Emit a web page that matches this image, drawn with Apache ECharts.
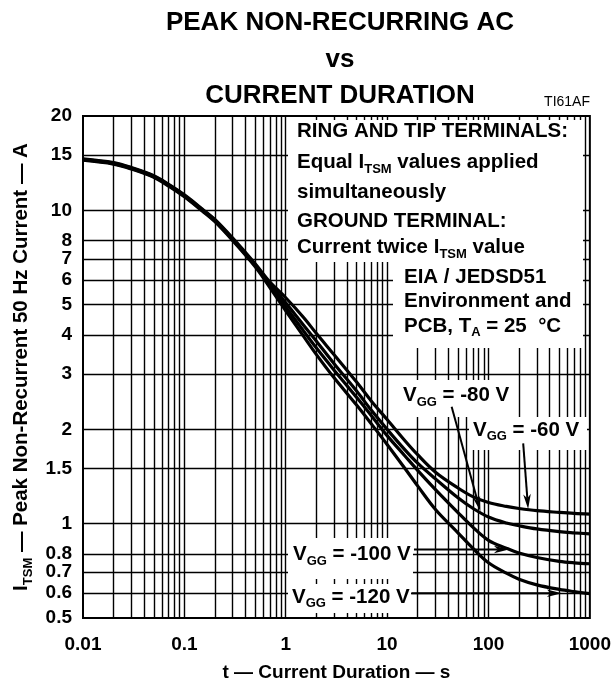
<!DOCTYPE html>
<html><head><meta charset="utf-8">
<script src="https://cdn.jsdelivr.net/npm/echarts@6/dist/echarts.min.js"></script>
<style>html,body{margin:0;padding:0;background:#fff}#c{width:614px;height:687px}</style>
</head><body><div id="c"></div>
<script>
// ---- data ----
const durations = [0.01, 0.02, 0.03, 0.05, 0.07, 0.1, 0.15, 0.2, 0.3, 0.5, 0.7, 1, 1.5, 2, 3, 5, 7, 10, 15, 20, 30, 50, 70, 100, 150, 200, 300, 500, 700, 1000];
const vgg60  = [14.6, 14.2, 13.7, 12.9, 12.1, 11.2, 10.1, 9.35, 8.15, 6.75, 5.9, 5.26, 4.55, 4.05, 3.46, 2.83, 2.46, 2.15, 1.84, 1.66, 1.46, 1.3, 1.22, 1.168, 1.135, 1.118, 1.1, 1.086, 1.078, 1.072];
const vgg80  = [14.55, 14.15, 13.65, 12.85, 12.05, 11.15, 10.05, 9.3, 8.1, 6.7, 5.82, 5.07, 4.3, 3.83, 3.24, 2.65, 2.3, 2.0, 1.72, 1.56, 1.39, 1.21, 1.12, 1.05, 1.005, 0.985, 0.962, 0.943, 0.935, 0.928];
const vgg100 = [14.5, 14.1, 13.6, 12.8, 12.0, 11.1, 10.0, 9.25, 8.05, 6.65, 5.74, 4.92, 4.12, 3.64, 3.09, 2.53, 2.21, 1.91, 1.645, 1.48, 1.285, 1.085, 0.975, 0.885, 0.835, 0.806, 0.78, 0.758, 0.75, 0.745];
const vgg120 = [14.45, 14.05, 13.55, 12.75, 11.95, 11.05, 9.95, 9.2, 8.0, 6.6, 5.66, 4.78, 3.96, 3.47, 2.92, 2.39, 2.08, 1.79, 1.5, 1.32, 1.11, 0.935, 0.835, 0.75, 0.695, 0.665, 0.638, 0.617, 0.607, 0.598];
const seriesNames = ['VGG = -60 V', 'VGG = -80 V', 'VGG = -100 V', 'VGG = -120 V'];
const xTickLabels = [0.01, 0.1, 1, 10, 100, 1000];
const yTickLabels = [0.5, 0.6, 0.7, 0.8, 1, 1.5, 2, 3, 4, 5, 6, 7, 8, 10, 15, 20];
const xGridValues = [0.02,0.03,0.04,0.05,0.06,0.07,0.08,0.09,0.1,0.2,0.3,0.4,0.5,0.6,0.7,0.8,0.9,1,2,3,4,5,6,7,8,9,10,20,30,40,50,60,70,80,90,100,200,300,400,500,600,700,800,900];
const yGridValues = [0.6, 0.7, 0.8, 1, 1.5, 2, 3, 4, 5, 6, 7, 8, 10, 15];
// arrow annotations, in data coordinates [t, I]
const arrows = [
  [[43.3, 2.36], [83.2, 1.095]],
  [[220, 1.804], [246, 1.113]],
  [[18.4, 0.827], [159, 0.827]],
  [[17.4, 0.6], [530, 0.6]]
];

const FF = "'Liberation Sans', Arial, Helvetica, sans-serif";
const chart = echarts.init(document.getElementById('c'));

function pairs(vals) { return durations.map((t, i) => [t, vals[i]]); }
const curveStyle = {
  type: 'line', smooth: 0.35, showSymbol: false, symbol: 'none', z: 3, silent: true,
  lineStyle: { color: '#000', width: 3.2 }
};

chart.setOption({
  animation: false,
  backgroundColor: '#fff',
  title: {
    text: 'PEAK NON-RECURRING AC\nvs\nCURRENT DURATION',
    left: 335, top: 0, textAlign: 'center',
    textStyle: { fontFamily: FF, fontWeight: 'bold', fontSize: 26, lineHeight: 36.5, color: '#000' }
  },
  grid: { left: 83, right: 24, top: 116, bottom: 64, show: true, borderColor: '#000', borderWidth: 2, backgroundColor: 'transparent' },
  xAxis: {
    type: 'log', logBase: 10, min: 0.01, max: 1000,
    axisLine: { show: false }, axisTick: { show: false }, splitLine: { show: false },
    axisLabel: { customValues: xTickLabels, formatter: v => String(v), fontFamily: FF, fontWeight: 'bold', fontSize: 19, color: '#000', margin: 17 },
    name: 't — Current Duration — s', nameLocation: 'middle', nameGap: 45,
    nameTextStyle: { fontFamily: FF, fontWeight: 'bold', fontSize: 19, color: '#000' }
  },
  yAxis: {
    type: 'log', logBase: 10, min: 0.5, max: 20,
    axisLine: { show: false }, axisTick: { show: false }, splitLine: { show: false },
    axisLabel: { customValues: yTickLabels, formatter: v => String(v), fontFamily: FF, fontWeight: 'bold', fontSize: 19, color: '#000', margin: 11 },
    name: '{m|I}{s|TSM}{m| — Peak Non-Recurrent 50 Hz Current — A}', nameLocation: 'middle', nameGap: 48, nameRotate: 90,
    nameTextStyle: {
      fontFamily: FF, fontWeight: 'bold', fontSize: 20.5, color: '#000',
      rich: {
        m: { fontFamily: FF, fontWeight: 'bold', fontSize: 20.5, lineHeight: 26, color: '#000' },
        s: { fontFamily: FF, fontWeight: 'bold', fontSize: 13, lineHeight: 9, verticalAlign: 'bottom', color: '#000' }
      }
    }
  },
  series: [
    {
      type: 'line', data: [], z: 1, silent: true,
      markLine: {
        z: 1, silent: true, symbol: 'none', animation: false, label: { show: false },
        lineStyle: { color: '#000', width: 1.4, type: 'solid' },
        emphasis: { disabled: true },
        data: xGridValues.map(v => ({ xAxis: v })).concat(yGridValues.map(v => ({ yAxis: v })))
      }
    },
    Object.assign({ name: seriesNames[0], data: pairs(vgg60) }, curveStyle),
    Object.assign({ name: seriesNames[1], data: pairs(vgg80) }, curveStyle),
    Object.assign({ name: seriesNames[2], data: pairs(vgg100) }, curveStyle),
    Object.assign({ name: seriesNames[3], data: pairs(vgg120) }, curveStyle)
  ]
});

// ---- annotations ----
const richMain = { fontFamily: FF, fontWeight: 'bold', fontSize: 20.5, lineHeight: 26, fill: '#000' };
const richSub = { fontFamily: FF, fontWeight: 'bold', fontSize: 13, lineHeight: 9, verticalAlign: 'bottom', fill: '#000' };
function txt(x, y, text) {
  return {
    type: 'text', x: x, y: y, z: 6, silent: true,
    style: { text: text, rich: { m: richMain, s: richSub }, fontFamily: FF, fontWeight: 'bold', fontSize: 20.5, fill: '#000', align: 'left', verticalAlign: 'middle' }
  };
}
function box(x, y, w, h) {
  return { type: 'rect', z: 2, silent: true, shape: { x: x, y: y, width: w, height: h }, style: { fill: '#fff' } };
}
const g = [
  box(288, 120, 295, 142),
  box(393, 262, 190, 86),
  box(398, 380, 115, 37),
  box(469, 417, 118, 33),
  box(288, 538, 125, 41),
  box(288, 584, 123, 29),
  txt(297, 131, '{m|RING AND TIP TERMINALS:}'),
  txt(297, 162.7, '{m|Equal I}{s|TSM}{m| values applied}'),
  txt(297, 192.7, '{m|simultaneously}'),
  txt(297, 221, '{m|GROUND TERMINAL:}'),
  txt(297, 247.7, '{m|Current twice I}{s|TSM}{m| value}'),
  txt(404, 277.5, '{m|EIA / JEDSD51}'),
  txt(404, 301, '{m|Environment and}'),
  txt(404, 326, '{m|PCB, T}{s|A}{m| = 25  °C}'),
  txt(403, 395.5, '{m|V}{s|GG}{m| = -80 V}'),
  txt(473, 430, '{m|V}{s|GG}{m| = -60 V}'),
  txt(293, 554.5, '{m|V}{s|GG}{m| = -100 V}'),
  txt(292, 597, '{m|V}{s|GG}{m| = -120 V}'),
  { type: 'text', x: 590, y: 102, z: 6, silent: true,
    style: { text: 'TI61AF', fontFamily: FF, fontSize: 14, fill: '#000', align: 'right', verticalAlign: 'middle' } }
];
arrows.forEach(a => {
  const p0 = chart.convertToPixel({ gridIndex: 0 }, a[0]);
  const p1 = chart.convertToPixel({ gridIndex: 0 }, a[1]);
  const dx = p1[0] - p0[0], dy = p1[1] - p0[1];
  const L = Math.sqrt(dx * dx + dy * dy), ux = dx / L, uy = dy / L;
  const len = 15, hw = 3.8;
  const bx = p1[0] - ux * len, by = p1[1] - uy * len;
  const nx = p1[0] - ux * (len - 4), ny = p1[1] - uy * (len - 4);
  g.push({ type: 'line', z: 5, silent: true, shape: { x1: p0[0], y1: p0[1], x2: nx, y2: ny }, style: { stroke: '#000', lineWidth: 2 } });
  g.push({ type: 'polygon', z: 5, silent: true,
    shape: { points: [[p1[0], p1[1]], [bx - uy * hw, by + ux * hw], [nx, ny], [bx + uy * hw, by - ux * hw]] },
    style: { fill: '#000' } });
});
chart.setOption({ graphic: { elements: g } });
</script>
</body></html>
